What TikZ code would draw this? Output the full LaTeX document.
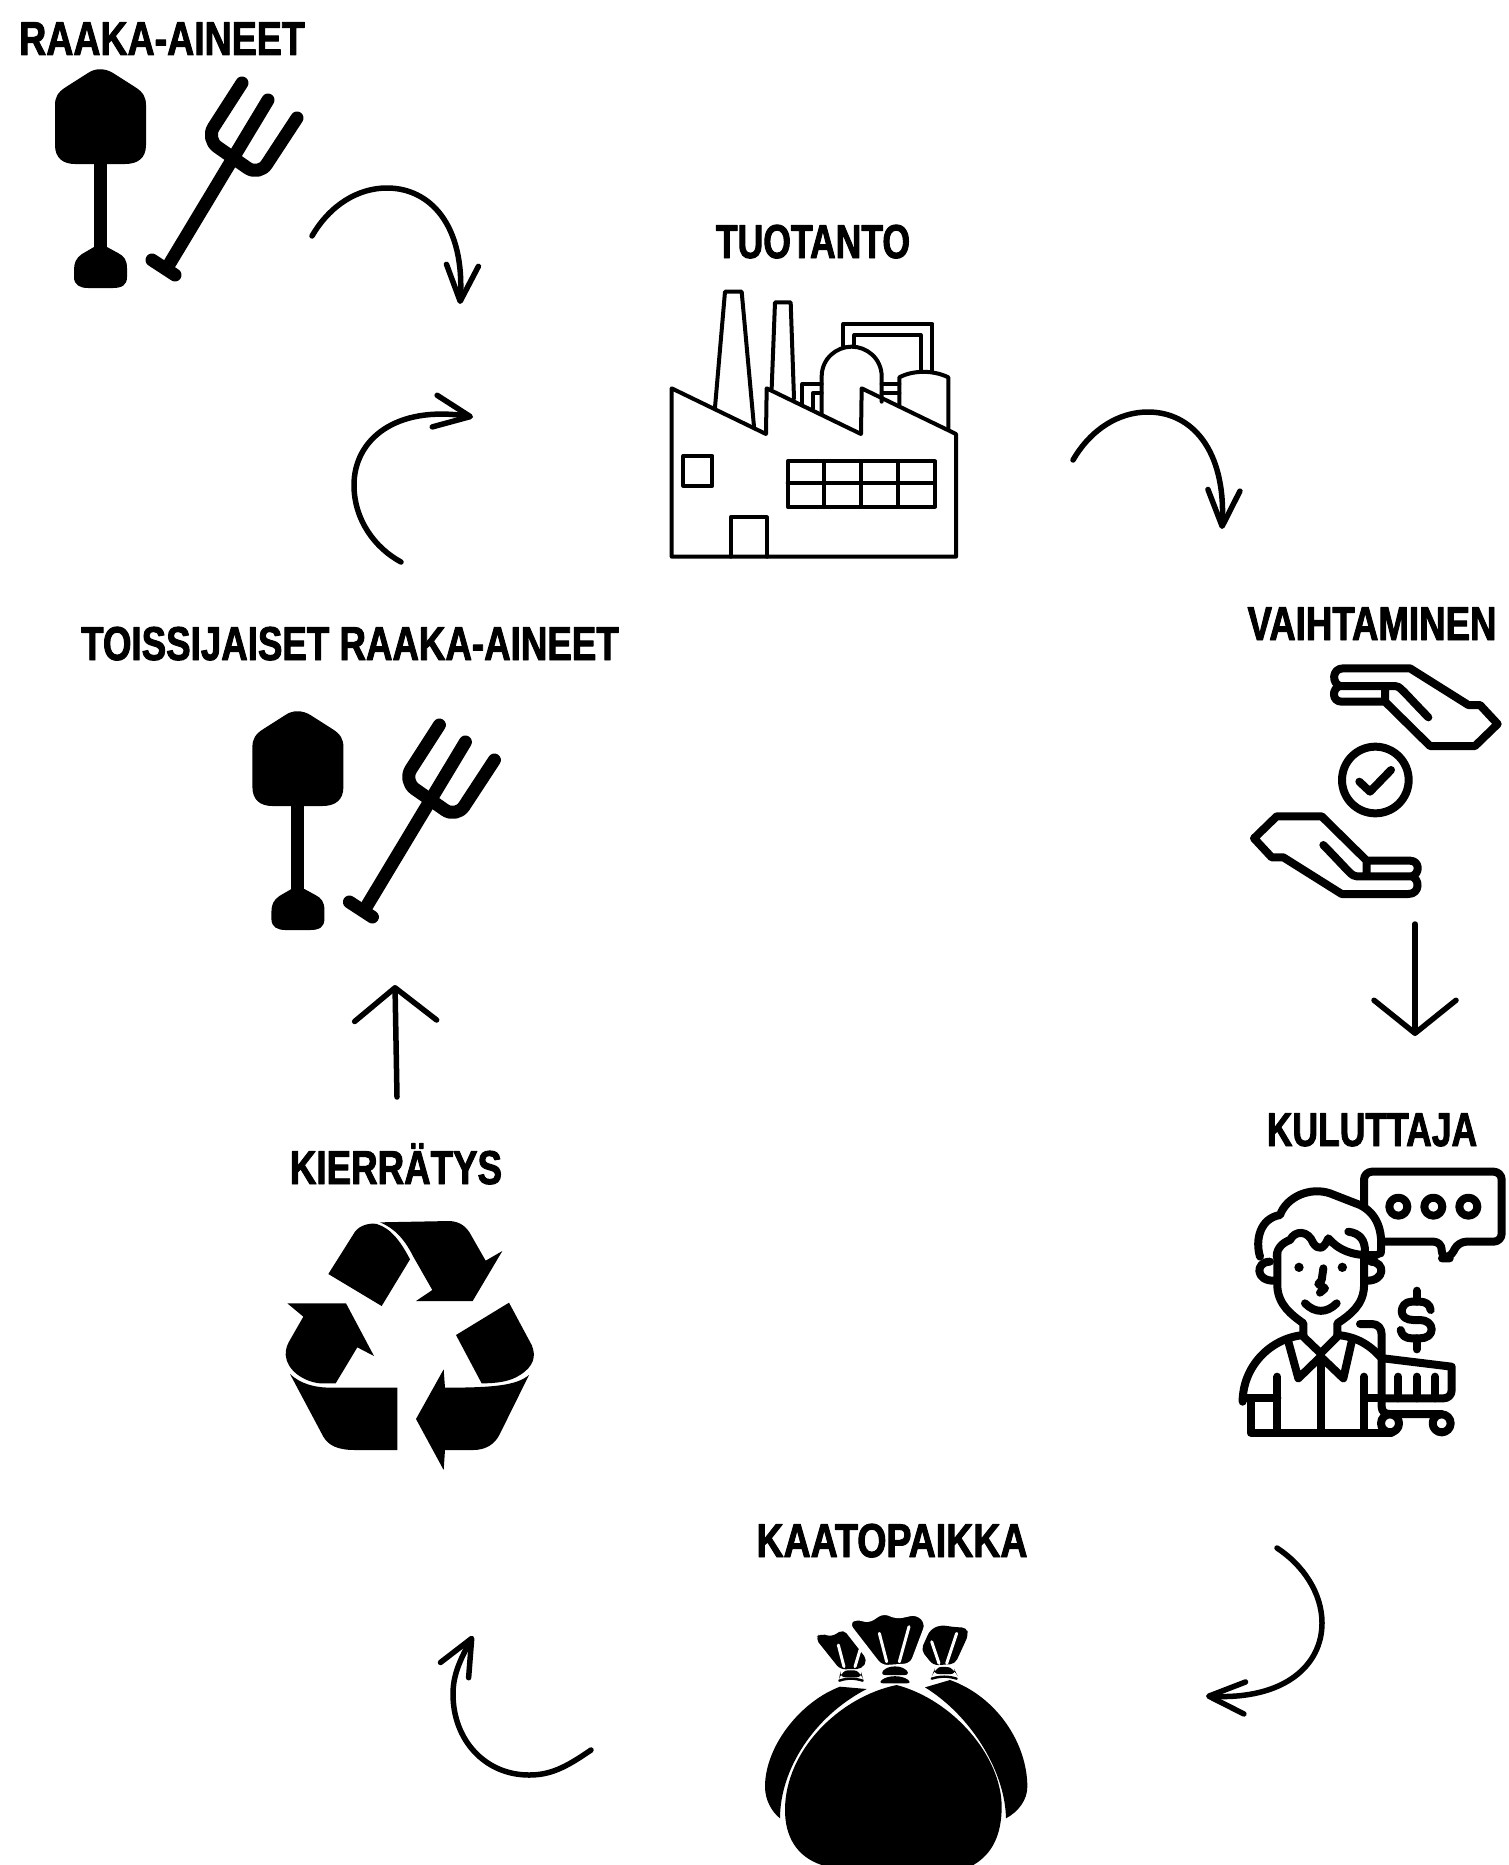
\documentclass[tikz,border=0pt]{standalone}
\usepackage{fontspec}
\usepackage{tikz}
\usetikzlibrary{arrows.meta}
\newfontfamily\headfont[FakeStretch=0.79,FakeBold=2]{Liberation Sans Bold}

\tikzset{
  tools/.pic={
    % shovel
    \fill[black] (88,73) .. controls (95,68) and (105,68) .. (113,73)--(135,87) .. controls (143,92) and (146,97) .. (146,105)--(146,145) .. controls (146,158) and (138,164) .. (125,164)--(75,164) .. controls (63,164) and (55,158) .. (55,145)--(55,105) .. controls (55,97) and (58,92) .. (66,87)--cycle;
    \fill[black] (94,160) rectangle (107,250);
    \fill[black] (94,247)--(82,254) .. controls (76,258) and (74,263) .. (74,270)--(74,277) .. controls (74,285) and (80,288) .. (88,288)--(113,288) .. controls (122,288) and (127,285) .. (127,277)--(127,268) .. controls (127,260) and (124,256) .. (118,253)--(107,247)--cycle;
    % fork
    \draw[black,line width=13,line cap=round] (170,263)--(268,100);
    \draw[black,line width=13,line cap=round] (152,260)--(175,275);
    \draw[black,line width=13,line cap=round,rounded corners=14] (242,83)--(206,139)--(259,176)--(297,118);
  }
}

\begin{document}
\begin{tikzpicture}[x=1pt,y=-1pt,line join=round,line cap=round]
\tikzstyle{heading}=[font=\headfont\fontsize{47.5}{50}\selectfont,anchor=base,inner sep=0]
\tikzstyle{curved arrow}=[line width=5.5,-{Straight Barb[length=36,width=32,round]}]
\tikzstyle{straight arrow}=[line width=5.5,-{Straight Barb[length=33,width=82,round]}]
\tikzstyle{thin icon}=[line width=4]
\tikzstyle{bold icon}=[line width=8]

\useasboundingbox (0,0) rectangle (1509,1865);

\node[heading] (raaka) at (162,55) {RAAKA-AINEET};
\node[heading,xscale=.947] (tuotanto) at (813,258) {TUOTANTO};
\node[heading,xscale=.976] (vaihto) at (1372,640) {VAIHTAMINEN};
\node[heading,xscale=.978] (toissi) at (350,660) {TOISSIJAISET RAAKA-AINEET};
\node[heading,xscale=.946] (kulu) at (1372,1146) {KULUTTAJA};
\node[heading,xscale=.978] (kierto) at (396,1184) {KIERRÄTYS};
\node[heading] (kaato) at (892,1557) {KAATOPAIKKA};

\pic (first) at (0,0) {tools};
\pic (second) at (197.4,642) {tools};

% factory
\begin{scope}[shift={(640,270)},scale=1/3,thin icon]
\draw (95,860)--(95,355)--(378,492)--(380,355)--(663,492)--(665,355)--(948,492)--(948,860)--cycle;
\draw (225,412)--(255,65)--(305,65)--(342,470);
\draw (395,355)--(405,97)--(452,97)--(462,385);
\draw (610,228)--(610,162)--(877,162)--(877,300);
\draw (643,225)--(643,195)--(842,195)--(842,300);
\draw (545,430)--(545,320) .. controls (545,265) and (590,230) .. (635,230) .. controls (680,230) and (725,265) .. (725,320)--(725,395);
\draw (487,400)--(487,342)--(545,342);
\draw (518,415)--(518,370)--(545,370);
\draw (725,342)--(778,342);
\draw (725,370)--(778,370);
\draw (778,405)--(778,322) .. controls (820,300) and (880,300) .. (925,322)--(925,475);
\draw (130,558) rectangle (217,647);
\draw (443,574) rectangle (885,710);
\draw (443,640)--(885,640);
\foreach \x in {552,663,775}
  \draw (\x,574)--(\x,710);
\draw (272,860)--(272,742)--(380,742)--(380,860);
\end{scope}

% hands
\begin{scope}[shift={(1230,640)},scale=1/3,bold icon]
\foreach \r in {0,180}
  \draw[rotate around={\r:(437.5,423.5)}] (330,138)--(495,138) .. controls (510,138) and (515,150) .. (595,232)
    (330,138) .. controls (305,130) and (305,85) .. (340,85)--(540,85)--(715,195)--(750,195)--(803,252)--(735,318)--(600,318)--(465,185)--(335,185) .. controls (305,185) and (305,145) .. (330,138)
    (465,150)--(465,185);
\draw (436,420) circle[radius=100];
\draw (388,425)--(420,455)--(483,390);
\end{scope}

% consumer
\begin{scope}[shift={(1220,1150)},scale=1/3,bold icon]
\draw[rounded corners=8] (432,170)--(432,65)--(845,65)--(845,275)--(715,275)--(690,325)--(665,325)--(665,275)--(490,275);
\foreach \x in {535,640,745}
  \draw (\x,170) circle[radius=27];
\draw (120,320) .. controls (105,270) and (120,205) .. (180,195) .. controls (200,140) and (270,110) .. (330,130)--(420,165) .. controls (470,190) and (490,240) .. (482,310);
\draw (170,320) .. controls (170,290) and (195,275) .. (210,270) .. controls (225,240) and (265,240) .. (280,280) .. controls (295,300) and (310,300) .. (325,265) .. controls (355,300) and (400,320) .. (470,315);
\draw (385,245) .. controls (420,250) and (435,270) .. (435,305);
\draw (172,310)--(172,410) .. controls (175,465) and (215,495) .. (250,520)--(250,560)--(302,610)--(352,560)--(352,520) .. controls (390,495) and (430,465) .. (432,410)--(432,310);
\draw (150,335) .. controls (105,335) and (105,395) .. (165,392);
\draw (452,335) .. controls (497,335) and (497,395) .. (437,392);
\fill (237,352) circle[radius=14];
\fill (367,352) circle[radius=14];
\draw (310,355)--(305,390)--(295,402)--(315,415)--(300,428);
\draw (255,460) .. controls (285,490) and (320,490) .. (350,460);
\draw (205,575)--(235,685)--(302,620)--(370,685)--(395,575);
\draw (68,755) .. controls (68,650) and (150,565) .. (250,555);
\draw (352,555) .. controls (410,560) and (450,585) .. (485,625);
\draw (68,745)--(172,745);
\draw (92,745)--(92,848)--(515,848);
\draw (172,680)--(172,848);
\draw (302,620)--(302,848);
\draw (432,680)--(432,848);
\draw (432,745)--(485,745);
\draw (420,522)--(455,522) .. controls (475,522) and (485,535) .. (485,555)--(485,770) .. controls (485,785) and (495,792) .. (510,792)--(665,792);
\draw (490,625)--(695,650)--(695,720) .. controls (695,735) and (685,745) .. (670,745)--(485,745);
\foreach \x in {535,590,645}
  \draw (\x,680)--(\x,745);
\draw (510,820) circle[radius=27];
\draw (665,820) circle[radius=27];
\draw (632,480) .. controls (630,462) and (615,455) .. (600,455)--(575,455) .. controls (555,455) and (545,470) .. (545,485) .. controls (545,500) and (560,510) .. (580,510)--(600,510) .. controls (620,510) and (635,522) .. (635,538) .. controls (635,555) and (620,565) .. (600,565)--(575,565) .. controls (555,565) and (545,555) .. (542,540);
\draw (590,422)--(590,455);
\draw (590,565)--(590,598);
\end{scope}

% recycling sign
\begin{scope}[shift={(270,1200)},scale=1/3]
\fill (175,222)--(255,95) .. controls (270,75) and (300,68) .. (320,72) .. controls (365,85) and (395,130) .. (420,178)--(335,318)--cycle;
\fill (330,67)--(540,63) .. controls (570,65) and (590,80) .. (603,105)--(647,182)--(697,153)--(608,303)--(438,303)--(487,270)--(430,170) .. controls (405,120) and (375,85) .. (330,67)--cycle;
\fill (717,308)--(785,435) .. controls (800,470) and (790,500) .. (750,525) .. controls (720,545) and (680,550) .. (635,550)--(558,405)--cycle;
\fill (777,525) .. controls (740,555) and (680,563) .. (525,563)--(521,508)--(438,657)--(521,810)--(525,750)--(610,750) .. controls (650,750) and (675,730) .. (688,705)--cycle;
\fill (60,522) .. controls (90,550) and (130,563) .. (185,563)--(382,563)--(382,750)--(255,750) .. controls (200,750) and (175,735) .. (160,710)--cycle;
\fill (52,310)--(228,310)--(312,468)--(262,442)--(197,550)--(150,550) .. controls (100,545) and (50,510) .. (47,465) .. controls (47,445) and (52,435) .. (57,425)--(100,350)--cycle;
\end{scope}

% garbage bags
\begin{scope}[shift={(740,1590)},scale=1/3]
\fill (300,290) .. controls (180,335) and (75,470) .. (75,590) .. controls (75,630) and (95,665) .. (120,685) .. controls (120,540) and (220,380) .. (380,297)--cycle;
\fill (630,270) .. controls (770,320) and (862,460) .. (862,590) .. controls (862,630) and (835,665) .. (798,685) .. controls (795,540) and (690,375) .. (555,292)--cycle;
\fill (470,285) .. controls (300,320) and (135,480) .. (135,660) .. controls (135,740) and (170,800) .. (245,825)--(700,825) .. controls (760,790) and (785,730) .. (785,650) .. controls (785,500) and (640,330) .. (470,285)--cycle;
% left neck
\fill[rounded corners=5] (226,145)--(240,130)--(275,140)--(310,118)--(382,210)--(365,237)--(300,238)--cycle;
\fill[rounded corners=6] (300,252) .. controls (320,240) and (345,240) .. (365,252)--(368,262)--(298,262)--cycle;
\draw[line width=2.4] (298,272) .. controls (320,264) and (345,264) .. (368,272);
% right neck
\fill[rounded corners=5] (570,120)--(600,105)--(650,112)--(680,112)--(685,135)--(645,222)--(580,226)--(543,180)--cycle;
\fill[rounded corners=6] (582,242) .. controls (600,230) and (625,230) .. (645,242)--(650,252)--(578,252)--cycle;
\draw[line width=2.4] (575,266) .. controls (600,258) and (625,258) .. (650,266);
% middle neck
\filldraw[draw=white,line width=1.5,rounded corners=6] (326,100)--(350,85)--(385,98)--(430,68)--(470,85)--(530,72)--(558,100)--(512,222)--(425,228)--cycle;
\fill[rounded corners=6] (418,255) .. controls (445,225) and (485,225) .. (512,255)--cycle;
\fill[rounded corners=6] (412,280) .. controls (445,255) and (485,255) .. (518,280)--cycle;
\draw[white,line width=3] (295,165)--(312,230) (360,180)--(345,230);
\draw[white,line width=3] (418,130)--(440,215) (507,110)--(478,215);
\draw[white,line width=3] (575,155)--(597,220) (650,130)--(620,220);
\end{scope}

% connectors between the stages
\coordinate (rawstart) at (312,236);
\coordinate (rawend) at (460,304);
\coordinate (factstart) at (1073,460);
\coordinate (factend) at (1222,529);
\coordinate (tradestart) at (1415,924);
\coordinate (tradeend) at (1415,1036);
\coordinate (userstart) at (1277,1548);
\coordinate (userend) at (1206,1696);
\coordinate (dumpstart) at (591,1750);
\coordinate (dumpend) at (473,1636);
\coordinate (recystart) at (397,1097);
\coordinate (recyend) at (395,985);
\coordinate (secstart) at (401,562);
\coordinate (secend) at (473,417);

\draw[curved arrow] (rawstart) .. controls (330,205) and (358,188) .. (387,188) .. controls (430,188) and (465,225) .. (rawend);
\draw[curved arrow] (factstart) .. controls (1091,429) and (1119,412) .. (1148,412) .. controls (1191,412) and (1226,449) .. (factend);
\draw[straight arrow] (tradestart)--(tradeend);
\draw[curved arrow] (userstart) .. controls (1303,1565) and (1322,1593) .. (1322,1623) .. controls (1322,1665) and (1285,1700) .. (userend);
\draw[curved arrow] (dumpstart) .. controls (565,1768) and (550,1775) .. (529,1775) .. controls (485,1775) and (453,1740) .. (453,1694) .. controls (453,1675) and (460,1660) .. (dumpend);
\draw[straight arrow] (recystart)--(recyend);
\draw[curved arrow] (secstart) .. controls (375,548) and (354,520) .. (354,485) .. controls (354,440) and (395,405) .. (secend);

\end{tikzpicture}
\end{document}
